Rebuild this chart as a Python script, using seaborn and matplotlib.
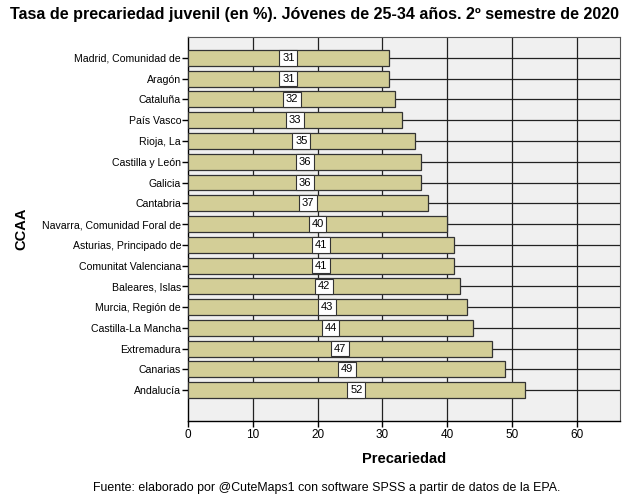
import matplotlib
matplotlib.use("Agg")
import matplotlib.pyplot as plt
import seaborn as sns
import pandas as pd

regions = ["Madrid, Comunidad de", "Aragón", "Cataluña", "País Vasco", "Rioja, La",
           "Castilla y León", "Galicia", "Cantabria", "Navarra, Comunidad Foral de",
           "Asturias, Principado de", "Comunitat Valenciana", "Baleares, Islas",
           "Murcia, Región de", "Castilla-La Mancha", "Extremadura", "Canarias", "Andalucía"]
values = [31, 31, 32, 33, 35, 36, 36, 37, 40, 41, 41, 42, 43, 44, 47, 49, 52]
xticks = [0, 10, 20, 30, 40, 50, 60]

sns.set_style("white")
plt.rcParams['font.family'] = ['Liberation Sans', 'DejaVu Sans']
plt.rcParams['text.color'] = 'black'
plt.rcParams['axes.labelcolor'] = 'black'
plt.rcParams['xtick.color'] = 'black'
plt.rcParams['ytick.color'] = 'black'

df = pd.DataFrame({"CCAA": regions, "Precariedad": values})

fig = plt.figure(figsize=(6.29, 5.04), dpi=100)
ax = fig.add_axes([188/629, 1-421/504, (620-188)/629, (421-37)/504])
ax.set_facecolor("#F0F0F0")

sns.barplot(data=df, y="CCAA", x="Precariedad", orient="h", color="#D3CE97",
            edgecolor="#333333", linewidth=0.9, width=0.77, saturation=1, ax=ax, zorder=3)

ax.set_xlim(0, 66.7)
ax.set_ylim(len(regions) - 1 + 1.49, -1.01)
ax.set_xticks(xticks)
ax.set_xticklabels([str(t) for t in xticks], fontsize=8.5)
ax.tick_params(axis='y', labelsize=7.6, length=4, width=1, color="black", pad=1, left=True)
ax.tick_params(axis='x', length=4, width=1, color="black", pad=2, bottom=True)

for t in xticks[1:]:
    ax.axvline(t, color="#222222", lw=0.9, zorder=1)
for i in range(len(regions)):
    ax.axhline(i, color="#222222", lw=0.9, zorder=1)

for i, v in enumerate(values):
    ax.text(v / 2, i, str(v), ha="center", va="center", fontsize=8, zorder=5,
            bbox=dict(boxstyle="square,pad=0.25", fc="white", ec="#333333", lw=0.8))

for s in ["left", "bottom"]:
    ax.spines[s].set_color("black")
    ax.spines[s].set_linewidth(1)
for s in ["top", "right"]:
    ax.spines[s].set_color("#555555")
    ax.spines[s].set_linewidth(0.8)

ax.set_xlabel("Precariedad", fontsize=10.5, fontweight="bold", labelpad=8)
ax.set_ylabel("CCAA", fontsize=10.5, fontweight="bold", labelpad=10)

fig.text(314/629, 1-15/504, "Tasa de precariedad juvenil (en %). Jóvenes de 25-34 años. 2º semestre de 2020",
         ha="center", va="center", fontsize=11.6, fontweight="bold")
fig.text(327/629, 1-488/504, "Fuente: elaborado por @CuteMaps1 con software SPSS a partir de datos de la EPA.",
         ha="center", va="center", fontsize=8.9)

fig.savefig("out.png", dpi=100)
